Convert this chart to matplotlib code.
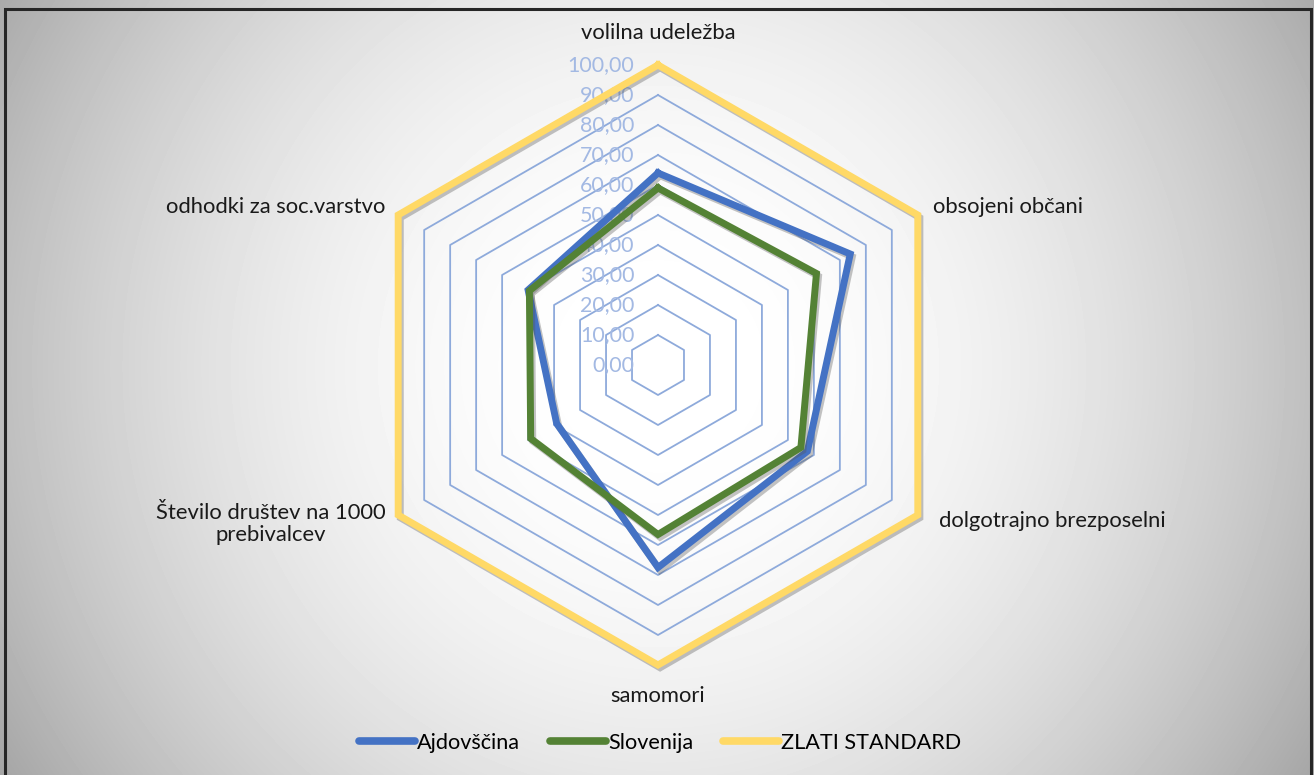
import numpy as np
import matplotlib
matplotlib.use("Agg")
import matplotlib.pyplot as plt
import matplotlib.patheffects as pe

plt.rcParams["font.family"] = ["Lato", "DejaVu Sans"]

# ---------------------------------------------------------
# DATA
# ---------------------------------------------------------

categories = [
    "volilna udeležba",
    "obsojeni občani",
    "dolgotrajno brezposelni",
    "samomori",
    "Število društev na 1000\nprebivalcev",
    "odhodki za soc.varstvo",
]

ajdovscina = [64.0, 74.0, 57.5, 67.5, 39.0, 50.0]
slovenija = [59.0, 61.0, 55.0, 56.5, 49.0, 49.5]
zlati_standard = [100.0, 100.0, 100.0, 100.0, 100.0, 100.0]

r_ticks = [0, 10, 20, 30, 40, 50, 60, 70, 80, 90, 100]
r_labels = ["0,00", "10,00", "20,00", "30,00", "40,00", "50,00",
            "60,00", "70,00", "80,00", "90,00", "100,00"]

series_names = ["Ajdovščina", "Slovenija", "ZLATI STANDARD"]
series_colors = ["#4472c4", "#548235", "#ffd966"]

# ---------------------------------------------------------
# FIGURE + BACKGROUND GRADIENT
# ---------------------------------------------------------

W, H = 1314, 775
fig = plt.figure(figsize=(W / 100, H / 100), dpi=100)

bg = fig.add_axes([0, 0, 1, 1])
yy, xx = np.mgrid[0:H, 0:W]
dist = np.hypot(xx - 658, yy - 366) / 745.0
shade = 1 - 0.36 * np.clip(dist - 0.05, 0, None) ** 1.9
bg.imshow(shade, cmap="gray", vmin=0, vmax=1, extent=(0, W, H, 0),
          aspect="auto", interpolation="bilinear")
bg.set_xlim(0, W)
bg.set_ylim(H, 0)
bg.axis("off")

# marco del gráfico
bg.plot([5, 5, 1311, 1311], [H, 9, 9, H], color="#262626", lw=2.2,
        solid_joinstyle="miter")

# ---------------------------------------------------------
# RADAR
# ---------------------------------------------------------

R = 300
ax = fig.add_axes([(658 - R) / W, (H - 365 - R) / H, 2 * R / W, 2 * R / H],
                  projection="polar")
ax.set_facecolor("none")
ax.set_theta_zero_location("N")
ax.set_theta_direction(-1)
ax.set_ylim(0, 100)
ax.set_xticks([])
ax.set_yticks([])
ax.grid(False)
ax.spines["polar"].set_visible(False)

n = len(categories)
angles = np.linspace(0, 2 * np.pi, n, endpoint=False)
ang_closed = np.append(angles, angles[0])

# hexágonos de la cuadrícula
for r in r_ticks[1:]:
    ax.plot(ang_closed, [r] * (n + 1), color="#8eaadb", lw=1.3, zorder=1,
            clip_on=False)

# etiquetas del eje radial
for r, lab in zip(r_ticks, r_labels):
    ax.annotate(lab, xy=(0, r), xytext=(-17, 0), textcoords="offset points",
                ha="right", va="center", fontsize=15.5, color="#a3b9e3",
                zorder=2, annotation_clip=False)

shadow = [pe.SimpleLineShadow(offset=(1.5, -2), shadow_color="#555555",
                              alpha=0.35),
          pe.Normal()]

for vals, color in zip([ajdovscina, slovenija, zlati_standard], series_colors):
    ax.plot(ang_closed, list(vals) + [vals[0]], color=color, lw=5,
            solid_joinstyle="miter", zorder=3, clip_on=False,
            path_effects=shadow)

# etiquetas de categorías
label_pos = [
    ((0, 23), "center", "center"),
    ((11, 6), "left", "center"),
    ((15, -4.5), "left", "center"),
    ((0, -22), "center", "center"),
    ((-9, -6.5), "right", "center"),
    ((-9, 6), "right", "center"),
]
for ang, cat, (off, ha, va) in zip(angles, categories, label_pos):
    ax.annotate(cat, xy=(ang, 100), xytext=off, textcoords="offset points",
                ha=ha, va=va, fontsize=15.8, color="#1a1a1a",
                multialignment="center", linespacing=1.1,
                annotation_clip=False)

# ---------------------------------------------------------
# LEYENDA
# ---------------------------------------------------------

handles = [plt.Line2D([], [], color=c, lw=5.5, solid_capstyle="round")
           for c in series_colors]
fig.legend(handles, series_names, loc="center", ncol=3,
           bbox_to_anchor=(660 / W, 1 - 743 / H), frameon=False,
           fontsize=15.6, handlelength=2.6, handletextpad=0.1,
           columnspacing=1.35)

fig.savefig("out.png", dpi=100)
